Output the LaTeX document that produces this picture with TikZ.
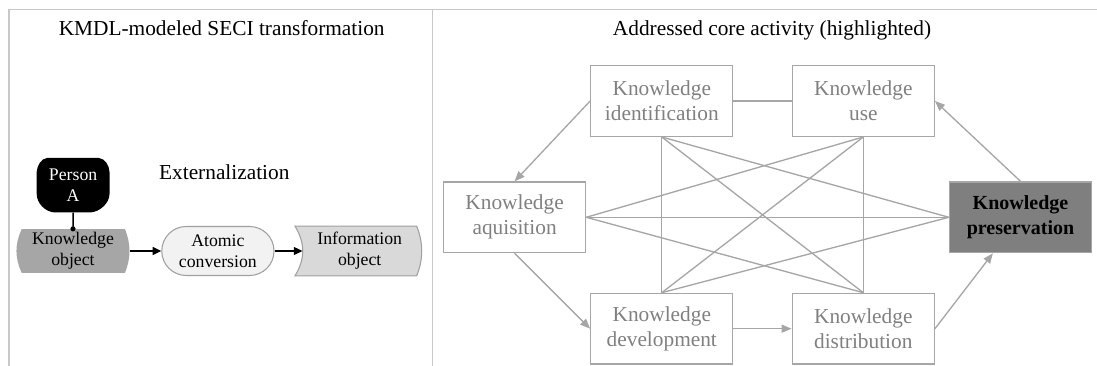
\documentclass[tikz,border=0pt]{standalone}
\usepackage{fontspec}
\setmainfont{Liberation Serif}
\usetikzlibrary{arrows.meta,shapes.misc}
\definecolor{framegray}{HTML}{C8C8C8}
\definecolor{boxgray}{HTML}{A6A6A6}
\definecolor{linegray}{HTML}{A6A6A6}
\definecolor{txtgray}{HTML}{808080}
\definecolor{hlgray}{HTML}{7F7F7F}
\definecolor{kogray}{HTML}{A6A6A6}
\definecolor{iogray}{HTML}{D9D9D9}
\definecolor{acgray}{HTML}{F2F2F2}
\definecolor{edgegray}{HTML}{A0A0A0}
\begin{document}
\begin{tikzpicture}[x=0.75pt,y=-0.75pt,
  panelrule/.style={draw=framegray,line width=1.1pt},
  heading/.style={font=\rmfamily\fontsize{16}{19}\selectfont,anchor=base,inner sep=0pt},
  smalltxt/.style={font=\rmfamily\fontsize{13.3}{15.75}\selectfont,align=center,inner sep=0pt},
  activity/.style={rectangle,draw=boxgray,line width=1pt,fill=white,
    minimum width=106.5pt,minimum height=53pt,inner sep=0pt,align=center,
    text=txtgray,font=\rmfamily\fontsize{16}{18.75}\selectfont},
  focus/.style={activity,fill=hlgray,text=black,font=\rmfamily\fontsize{15}{18.75}\selectfont\bfseries},
  tie/.style={draw=linegray,line width=1pt},
  flow/.style={tie,-{Triangle[length=7.5pt,width=6pt]}},
  pass/.style={draw=black,line width=1.1pt,-{Triangle[length=6.5pt,width=6pt]}},
  convstep/.style={rounded rectangle,draw=edgegray,fill=acgray,line width=0.8pt,
    minimum width=84.2pt,minimum height=36.75pt,inner sep=0pt,smalltxt},
]
\useasboundingbox (0,0) rectangle (1097,366);

% panel frame and divider
\draw[panelrule] (9,366) -- (9,9.5) -- (1097,9.5);
\draw[panelrule] (432.7,9.5) -- (432.7,366);

% ---------- left panel: KMDL externalization ----------
\node[heading] (lefthead) at (221.7,36) {KMDL-modeled SECI transformation};
\node[heading] (ext) at (224.3,180) {Externalization};

% person symbol
\fill[black] (36.7,172) .. controls (37,166) and (41,158.5) .. (47,158)
  -- (99,158) .. controls (105,158.5) and (109.5,166) .. (109.5,172)
  -- (109.5,194) .. controls (109.5,203) and (100,212) .. (90,212.5)
  -- (55,212.5) .. controls (45,212) and (36.7,203) .. (36.7,194) -- cycle;
% knowledge object
\fill[kogray] (21.7,229.2) -- (125,229.2) .. controls (131,244) and (131,258) .. (125,272.8)
  -- (21.7,272.8) .. controls (14.7,258) and (14.7,244) .. (21.7,229.2) -- cycle;
% information object
\draw[draw=edgegray,fill=iogray,line width=0.8pt]
  (295,226.2) -- (416.7,226.2) .. controls (423.4,243) and (423.4,259) .. (416.7,275.8)
  -- (295,275.8) .. controls (305.3,259) and (305.3,243) .. (295,226.2) -- cycle;

\node[smalltxt,text=white,minimum width=54.6pt,minimum height=40.9pt] (person) at (73.1,185.2) {Person\\A};
\node[smalltxt,minimum width=84.75pt,minimum height=32.8pt] (ko) at (73,251) {Knowledge\\object};
\node[convstep] (ac) at (217.9,251) {Atomic\\conversion};
\node[smalltxt,minimum width=85.5pt,minimum height=37.2pt] (io) at (359.7,251) {Information\\object};

\draw[black,line width=1.1pt] (person.south) -- (ko.north);
\fill[black] (ko.north) circle[radius=2.6];
\draw[pass] (ko.east) -- (ac.west);
\draw[pass] (ac.east) -- (io.west);

% ---------- right panel: core activities ----------
\node[heading] (righthead) at (772,36) {Addressed core activity (highlighted)};

\node[activity] (ident) at (661.8,101) {Knowledge\\identification};
\node[activity] (use)   at (863.3,101) {Knowledge\\use};
\node[activity] (acq)   at (514.6,217.3) {Knowledge\\aquisition};
\node[focus]    (pres)  at (1020.5,217.3) {Knowledge\\preservation};
\node[activity] (dev)   at (661.8,328.7) {Knowledge\\development};
\node[activity] (dist)  at (863.3,328.7) {Knowledge\\distribution};

% mutual relations
\draw[tie] (ident.east) -- (use.west);
\draw[tie] (ident.south) -- (dev.north);
\draw[tie] (ident.south) -- (dist.north);
\draw[tie] (ident.south) -- (pres.west);
\draw[tie] (use.south) -- (dist.north);
\draw[tie] (use.south) -- (dev.north);
\draw[tie] (use.south) -- (acq.east);
\draw[tie] (acq.east) -- (pres.west);
\draw[tie] (acq.east) -- (dist.north);
\draw[tie] (dev.north) -- (pres.west);

% cycle of core activities
\draw[flow] (ident.west) -- (acq.north);
\draw[flow] (acq.south) -- (dev.west);
\draw[flow] (dev.east) -- (dist.west);
\draw[flow] (dist.east) -- (pres);
\draw[flow] (pres.north) -- (use.east);
\end{tikzpicture}
\end{document}
